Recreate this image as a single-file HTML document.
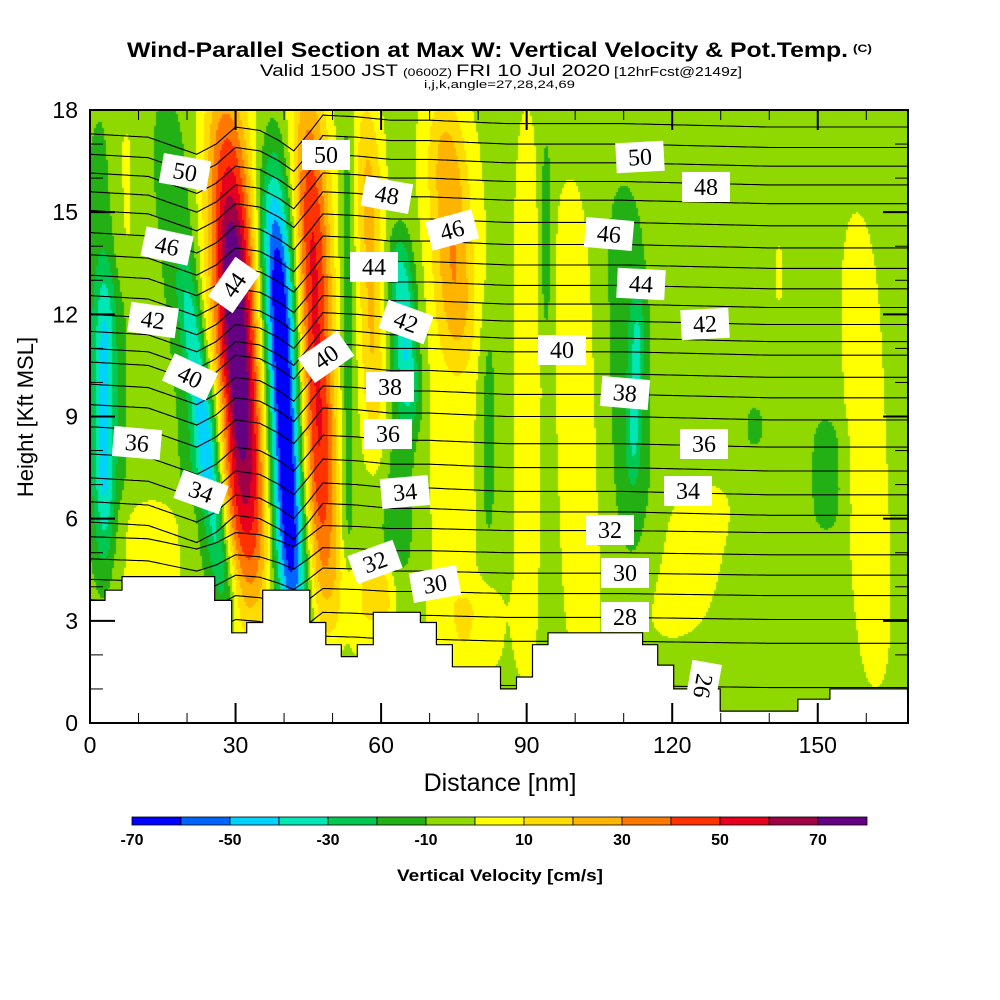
<!DOCTYPE html>
<html><head><meta charset="utf-8">
<style>
html,body{margin:0;padding:0;background:#fff;}
#wrap{position:relative;width:1000px;height:1000px;overflow:hidden;}
svg text{font-family:"Liberation Sans",sans-serif;}
.lbl{font-family:"Liberation Serif",serif;font-size:24px;}
</style></head>
<body>
<div id="wrap">
<canvas id="field" width="818" height="613" style="position:absolute;left:90px;top:110px;"></canvas>
<svg id="svg" width="1000" height="1000" style="position:absolute;left:0;top:0;" xmlns="http://www.w3.org/2000/svg">
<g>
<text x="127" y="57" font-size="21" font-weight="bold" textLength="721" lengthAdjust="spacingAndGlyphs">Wind-Parallel Section at Max W: Vertical Velocity &amp; Pot.Temp.</text>
<text x="853" y="52" font-size="11" font-weight="bold" textLength="19" lengthAdjust="spacingAndGlyphs">(C)</text>
</g>
<g>
<text x="260" y="76" font-size="17" textLength="138" lengthAdjust="spacingAndGlyphs">Valid 1500 JST</text>
<text x="403" y="76" font-size="11" textLength="49" lengthAdjust="spacingAndGlyphs">(0600Z)</text>
<text x="456" y="76" font-size="17" textLength="154" lengthAdjust="spacingAndGlyphs">FRI 10 Jul 2020</text>
<text x="614" y="76" font-size="13" textLength="128" lengthAdjust="spacingAndGlyphs">[12hrFcst@2149z]</text>
<text x="424" y="88" font-size="11" textLength="151" lengthAdjust="spacingAndGlyphs">i,j,k,angle=27,28,24,69</text>
</g>
<g id="terrain"></g>
<g id="theta"></g>
<g id="labels"></g>
<g id="axes"></g>
<text x="500" y="791" font-size="25" text-anchor="middle">Distance [nm]</text>
<text transform="translate(33,417) rotate(-90)" font-size="22" text-anchor="middle">Height [Kft MSL]</text>
<g id="cbar"></g>
<text x="500" y="881" font-size="17" font-weight="bold" text-anchor="middle" textLength="206" lengthAdjust="spacingAndGlyphs">Vertical Velocity [cm/s]</text>
</svg>
</div>
<script>
// ---- data ----
const colorBins = ["#0000ff","#0064ff","#00d2ff","#00e6b4","#00c850","#22b014","#8fd800","#ffff00","#ffdc00","#ffb400","#ff7800","#ff3200","#e6001e","#a00046","#640082"];
const binStart = -70, binSize = 10;
const cbarLabels = [-70,-50,-30,-10,10,30,50,70];
const background = -5;
// features of the vertical velocity field (nm, kft, cm/s)
const featXBottom = [3, 3, 7, 25, 28, 33, 30, 42, 48, 53, 59, 66, 64, 76, 75, 82, 94, 90, 102, 112, 112, 152, 137, 142, 162, 12, 55, 78, 120, 24, 60, 31];
const featXTop    = [3, 3, 7, 16, 20, 28, 27, 38, 45, 53, 57, 64, 63, 73, 74, 82, 94, 90, 99, 110, 113, 152, 137, 142, 158, 12, 55, 78, 127, 26, 60, 29];
const featZBottom = [4, 5, 13, 4, 3.5, 4, 6, 3, 4, 3, 8, 9, 4, 11, 2, 5, 11.5, 1, 1, 5, 7.5, 5.8, 8.2, 12.4, 1, 3.5, 2, 1.5, 2.5, 7, 3, 8.5];
const featZTop    = [18, 13, 18, 18, 13, 18, 15, 15.5, 18, 18, 18, 14, 14, 18, 18, 12, 17, 18, 16, 15.5, 12.4, 8.8, 9.2, 14, 15, 6.5, 5, 4, 7, 10, 4.5, 14.5];
const featAmp     = [-10, -30, 10, -12, -33, 68, 10, -76, 58, -14, 30, -28, -12, 26, 10, -12, -14, 10, 10, -12, -20, -14, -12, 10, 10, 11, 12, 10, 10, -14, 22, 14];
const featWidth   = [5, 2.2, 3, 5, 2.4, 4.8, 9, 3.6, 4, 1.6, 3, 2.4, 5, 4, 8, 2, 1.2, 3, 5, 4.5, 1.4, 3, 1.5, 0.8, 5, 9, 5, 7, 8, 4, 3, 2.5];
// theta contours
const thetaLevels = [26,27,28,29,30,31,32,33,34,35,36,37,38,39,40,41,42,43,44,45,46,47,48,49,50,51,52];
const thetaBase = [1.1,2.4,3.1,3.8,4.4,5.0,5.65,6.2,6.8,7.5,8.2,9.0,9.65,10.25,10.9,11.3,11.8,12.3,12.85,13.45,14.05,14.7,15.35,15.9,16.45,17.0,17.6];
const dispX = [0,12,22,26,30,35,39,42,45,48,55,62,70,86,110,140,168];
const dispV = [-0.3,-0.4,-0.9,-0.6,-0.1,-0.2,-0.5,-0.8,-0.3,0.25,0.2,0.1,0.1,0,0,-0.1,-0.1];
// terrain steps: right edge nm and heights (kft)
const terrX = [0,3.1,6.6,25.7,29.2,32.3,35.6,45.3,48.6,51.8,55.1,58.4,68.1,71.4,74.7,84.6,87.9,91.2,94.4,113.9,117.0,120.3,129.9,145.9,152.5,168.5];
const terrH = [3.6,3.9,4.3,3.6,2.65,2.95,3.9,2.95,2.3,1.95,2.3,3.25,2.95,2.3,1.65,1.0,1.35,2.3,2.65,2.3,1.7,1.0,0.35,0.7,1.0];
// label positions
const labelText = ["50","50","48","46","46","44","44","42","42","40","40","38","36","36","34","34","32","30","50","48","46","44","42","40","38","36","34","32","30","28","26"];
const labelPx = [185,326,387,452,167,234,374,153,406,190,326,390,388,137,201,405,375,435,640,706,609,641,705,562,625,704,688,610,625,625,703];
const labelPy = [172,155,195,230,246,285,267,320,322,377,357,387,434,443,492,492,562,584,157,187,234,284,324,350,393,444,491,530,573,617,686];
const labelRot = [10,0,10,-15,12,-55,0,8,20,25,-35,0,0,5,20,-5,-20,-10,-3,0,5,3,-3,0,5,0,0,0,0,0,100];

// ---- axes functions ----
const X0=90, X1=908, Y0=723, Y1=110, XMAX=168.6, ZMAX=18;
const sx = v => X0 + v*(X1-X0)/XMAX;
const sy = z => Y0 - z*(Y0-Y1)/ZMAX;
const NS="http://www.w3.org/2000/svg";
function mk(tag, attrs, parent){const e=document.createElementNS(NS,tag);for(const k in attrs)e.setAttribute(k,attrs[k]);parent.appendChild(e);return e;}
function interp(xs, vs, x){ if(x<=xs[0])return vs[0]; for(let i=1;i<xs.length;i++){ if(x<=xs[i]){const t=(x-xs[i-1])/(xs[i]-xs[i-1]);return vs[i-1]+t*(vs[i]-vs[i-1]);}} return vs[vs.length-1]; }

// ---- field ----
function fieldValue(x,z){
  let v = background;
  for(let i=0;i<featAmp.length;i++){
    const z0=featZBottom[i], z1=featZTop[i];
    const zc=(z0+z1)/2, zh=(z1-z0)/2;
    const dz=(z-zc)/zh;
    const tz=Math.exp(-Math.pow(Math.abs(dz),4)*0.7);
    if(tz<0.01)continue;
    const t=Math.min(1,Math.max(0,(z-z0)/(z1-z0)));
    const xc=featXBottom[i]+t*(featXTop[i]-featXBottom[i]);
    const dx=(x-xc)/featWidth[i];
    v += featAmp[i]*tz*Math.exp(-dx*dx);
  }
  return v;
}
(function(){
  const cv=document.getElementById('field'), ctx=cv.getContext('2d');
  const step=2;
  for(let py=0;py<613;py+=step){
    const z=(613-py-step/2)*ZMAX/613;
    for(let px=0;px<818;px+=step){
      const x=(px+step/2)*XMAX/818;
      const v=fieldValue(x,z);
      let b=Math.floor((v-binStart)/binSize); b=Math.max(0,Math.min(colorBins.length-1,b));
      ctx.fillStyle=colorBins[b];
      ctx.fillRect(px,py,step,step);
    }
  }
})();

const svg=document.getElementById('svg');
// ---- theta contours ----
(function(){
  const g=document.getElementById('theta');
  for(let i=0;i<thetaLevels.length;i++){
    let d="";
    for(let x=0;x<=XMAX;x+=0.5){
      let disp=interp(dispX,dispV,x);
      const scale = thetaBase[i]<6 ? 0.6 : 1;
      const z=Math.min(ZMAX,thetaBase[i]+disp*scale);
      d += (x===0?"M":"L")+sx(x).toFixed(1)+","+sy(z).toFixed(1);
    }
    const p=mk('path',{d:d,fill:"none",stroke:"#000","stroke-width":1.1},g);
    
    
  }
})();
// ---- terrain ----
(function(){
  const g=document.getElementById('terrain');
  let d="M"+sx(0)+","+sy(0);
  for(let i=0;i<terrH.length;i++){
    d+="L"+sx(terrX[i]).toFixed(1)+","+sy(terrH[i]).toFixed(1)+"L"+sx(terrX[i+1]).toFixed(1)+","+sy(terrH[i]).toFixed(1);
  }
  d+="L"+X1+","+sy(0)+"Z";
  const p=mk('path',{d:d,fill:"#fff",stroke:"#000","stroke-width":1.2},g);
  
  
  svg.insertBefore(document.getElementById('theta'), g);
})();
// ---- labels ----
(function(){
  const g=document.getElementById('labels');
  for(let i=0;i<labelText.length;i++){
    const lg=mk('g',{transform:`translate(${labelPx[i]},${labelPy[i]}) rotate(${labelRot[i]})`},g);
    
    
    mk('rect',{x:-24,y:-15,width:48,height:30,fill:"#fff"},lg);
    const t=mk('text',{x:0,y:8,"text-anchor":"middle",class:"lbl"},lg);
    t.textContent=labelText[i];
  }
})();
// ---- axes ----
(function(){
  const g=document.getElementById('axes');
  mk('rect',{x:X0,y:Y1,width:X1-X0,height:Y0-Y1,fill:"none",stroke:"#000","stroke-width":2},g);
  for(let z=0;z<=18;z++){
    const major=z%3===0, L=major?25:13, y=sy(z);
    mk('line',{x1:X0,y1:y,x2:X0+L,y2:y,stroke:"#000","stroke-width":major?2:1},g);
    mk('line',{x1:X1,y1:y,x2:X1-L,y2:y,stroke:"#000","stroke-width":major?2:1},g);
    if(major){const t=mk('text',{x:78,y:y+8,"font-size":23,"text-anchor":"end"},g);t.textContent=z;
      }
  }
  for(let x=0;x<=160;x+=10){
    const major=x%30===0, L=major?20:10, px=sx(x);
    mk('line',{x1:px,y1:Y0,x2:px,y2:Y0-L,stroke:"#000","stroke-width":major?2:1},g);
    mk('line',{x1:px,y1:Y1,x2:px,y2:Y1+L,stroke:"#000","stroke-width":major?2:1},g);
    if(major){const t=mk('text',{x:px,y:753,"font-size":23,"text-anchor":"middle"},g);t.textContent=x;
      }
  }
})();
// ---- colorbar ----
(function(){
  const g=document.getElementById('cbar');
  const cx0=132, cw=49, cy=817, ch=8;
  for(let i=0;i<colorBins.length;i++){
    const r=mk('rect',{x:cx0+i*cw,y:cy,width:cw,height:ch,fill:colorBins[i],stroke:"#000","stroke-width":0.8},g);
    
    
  }
  for(const v of cbarLabels){
    const t=mk('text',{x:cx0+(v-binStart)/binSize*cw,y:845,"font-size":16,"font-weight":"bold","text-anchor":"middle"},g);
    t.textContent=v;
    
    
  }
})();
</script>
</body></html>
